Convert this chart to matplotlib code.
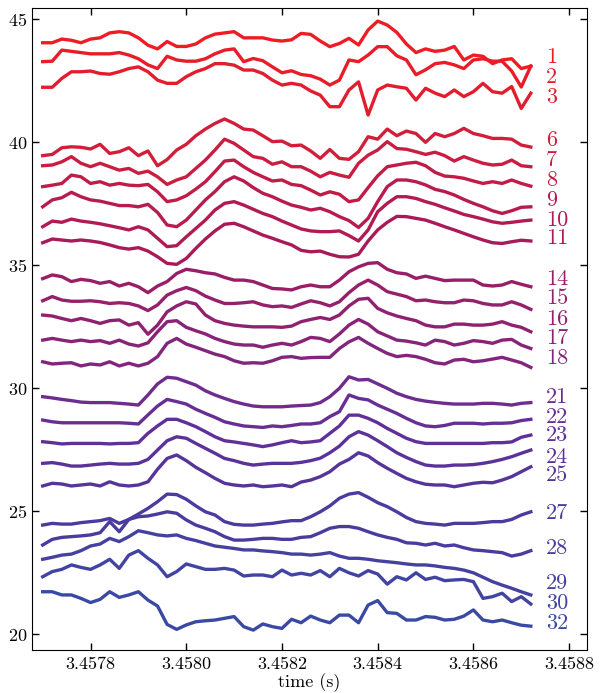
import numpy as np
import matplotlib
matplotlib.use("Agg")
import matplotlib.pyplot as plt
from matplotlib.colors import LinearSegmentedColormap

plt.rcParams['font.family'] = 'serif'
plt.rcParams['font.serif'] = ['cmr10', 'DejaVu Serif']
plt.rcParams['axes.formatter.use_mathtext'] = True

# sample times (s), 52 samples spaced 20 us
t = np.linspace(3.4577, 3.45872, 52)

# channel traces (offset voltages)
ch1 = [44.05, 44.05, 44.2, 44.15, 44.05, 44.2, 44.25, 44.45, 44.5, 44.45, 44.25, 43.95, 43.8, 44.1, 43.9, 43.9, 44.0, 44.25, 44.4, 44.45, 44.5,
       44.25, 44.25, 44.25, 44.16, 44.12, 44.17, 44.43, 44.39, 44.12, 43.89, 44.02, 44.23, 43.96, 44.57, 44.93, 44.77, 44.47, 44.0,
       43.65, 43.8, 43.7, 43.75, 43.9, 43.35, 43.55, 43.5, 43.2, 43.35, 43.4, 43.0, 43.1]
ch2 = [43.28, 43.3, 43.75, 43.7, 43.65, 43.6, 43.6, 43.6, 43.65, 43.55, 43.4, 43.15, 43.0, 43.5, 43.35, 43.3, 43.3, 43.4, 43.6, 43.75, 43.8,
       43.28, 43.41, 43.32, 43.07, 42.83, 42.91, 42.76, 42.71, 42.57, 42.33, 42.53, 43.35, 43.28, 43.55, 43.89, 43.89, 43.52, 43.35,
       42.75, 42.95, 43.2, 43.25, 43.15, 43.0, 43.35, 43.4, 43.3, 43.3, 42.9, 42.25, 43.1]
ch3 = [42.24, 42.24, 42.6, 42.87, 42.87, 42.9, 42.8, 42.77, 42.87, 43.0, 43.07, 42.87, 42.53, 42.4, 42.4, 42.67, 42.87, 43.0, 43.2, 43.2, 43.14,
       42.94, 42.94, 42.8, 42.53, 42.33, 42.4, 42.33, 42.09, 41.92, 41.45, 41.45, 42.13, 42.46, 41.11, 42.13, 42.33, 42.26, 42.2,
       41.72, 42.2, 42.0, 41.86, 42.13, 41.86, 42.06, 42.4, 42.06, 42.0, 42.27, 41.38, 42.0]
ch6 = [39.46, 39.51, 39.78, 39.82, 39.8, 39.73, 39.92, 39.55, 39.62, 39.78, 39.46, 39.65, 39.05, 39.3, 39.69, 39.92, 40.27, 40.54, 40.77, 40.95,
       40.77, 40.54, 40.5, 40.27, 40.03, 40.05, 39.86, 39.89, 39.65, 39.35, 39.71, 39.35, 39.31, 39.62, 40.23, 40.13, 40.54, 40.27,
       40.46, 40.36, 40.0, 40.36, 40.23, 40.36, 40.57, 40.36, 40.27, 40.16, 40.16, 40.13, 39.89, 39.81]
ch7 = [39.05, 39.08, 39.21, 39.42, 39.15, 39.01, 39.15, 39.01, 38.87, 38.94, 38.74, 38.83, 38.6, 38.29, 38.47, 38.6, 38.94, 39.28, 39.69, 40.13,
       39.96, 39.69, 39.42, 39.35, 39.11, 39.21, 39.01, 39.01, 38.83, 38.6, 38.78, 38.67, 38.58, 39.15, 39.48, 39.69, 40.03, 39.75,
       39.72, 39.62, 39.51, 39.6, 39.46, 39.24, 39.42, 39.28, 39.15, 39.08, 39.11, 39.28, 39.05, 39.01]
ch8 = [38.2, 38.26, 38.33, 38.67, 38.6, 38.33, 38.4, 38.26, 38.33, 38.26, 38.24, 38.29, 37.99, 37.59, 37.66, 37.83, 38.1, 38.4, 38.81, 39.24,
       39.28, 39.01, 38.78, 38.6, 38.43, 38.47, 38.29, 38.24, 38.06, 37.86, 37.99, 37.89, 37.59, 37.66, 38.16, 38.64, 39.01, 39.08,
       39.15, 39.19, 39.05, 38.78, 38.63, 38.6, 38.54, 38.43, 38.33, 38.4, 38.33, 38.47, 38.33, 38.22]
ch9 = [37.38, 37.66, 37.75, 37.97, 37.79, 37.66, 37.61, 37.52, 37.43, 37.43, 37.38, 37.48, 37.15, 36.64, 36.57, 36.84, 37.25, 37.66, 38.0, 38.4,
       38.6, 38.43, 38.16, 37.93, 37.79, 37.61, 37.45, 37.36, 37.25, 37.32, 37.18, 36.98, 36.82, 36.54, 36.91, 37.59, 38.2, 38.47,
       38.47, 38.4, 38.27, 38.09, 38.0, 37.86, 37.68, 37.52, 37.38, 37.22, 37.11, 37.22, 37.36, 37.38]
ch10 = [36.57, 36.8, 36.75, 36.88, 36.8, 36.75, 36.69, 36.61, 36.53, 36.44, 36.57, 36.44, 36.1, 35.76, 35.8, 36.16, 36.5, 36.84, 37.25, 37.52,
        37.59, 37.45, 37.28, 37.11, 36.98, 36.8, 36.64, 36.48, 36.4, 36.37, 36.37, 36.4, 36.21, 35.99, 36.44, 37.18, 37.52, 37.79,
        37.79, 37.72, 37.59, 37.48, 37.34, 37.21, 37.07, 36.98, 36.88, 36.77, 36.71, 36.75, 36.8, 36.84]
ch11 = [35.92, 36.07, 36.03, 35.99, 36.03, 35.99, 35.93, 35.83, 35.72, 35.66, 35.72, 35.58, 35.35, 35.08, 35.04, 35.28, 35.69, 36.07, 36.4, 36.67,
        36.71, 36.57, 36.4, 36.23, 36.1, 35.96, 35.83, 35.61, 35.55, 35.58, 35.45, 35.35, 35.34, 35.45, 35.99, 36.44, 36.75, 36.99,
        36.98, 36.91, 36.84, 36.71, 36.57, 36.44, 36.3, 36.16, 36.03, 35.92, 35.89, 35.96, 36.02, 35.99]
ch14 = [34.46, 34.61, 34.54, 34.34, 34.43, 34.38, 34.27, 34.34, 34.16, 34.27, 34.13, 33.89, 34.16, 34.34, 34.67, 34.84, 34.78, 34.7, 34.65, 34.51,
        34.4, 34.4, 34.34, 34.2, 34.06, 34.04, 34.0, 34.13, 34.2, 34.13, 34.13, 34.4, 34.74, 34.94, 35.08, 35.11, 34.84, 34.7,
        34.65, 34.47, 34.56, 34.47, 34.38, 34.4, 34.4, 34.4, 34.2, 34.16, 34.2, 34.34, 34.23, 34.13]
ch15 = [33.56, 33.73, 33.59, 33.54, 33.54, 33.56, 33.52, 33.45, 33.48, 33.45, 33.35, 33.16, 33.39, 33.79, 33.97, 34.1, 33.97, 33.75, 33.59, 33.45,
        33.45, 33.48, 33.52, 33.39, 33.32, 33.35, 33.29, 33.43, 33.56, 33.48, 33.35, 33.52, 33.89, 34.2, 34.4, 34.2, 33.93, 33.83,
        33.73, 33.56, 33.59, 33.52, 33.48, 33.48, 33.59, 33.56, 33.45, 33.39, 33.39, 33.52, 33.39, 33.21]
ch16 = [32.98, 32.94, 32.84, 32.75, 32.84, 32.75, 32.64, 32.75, 32.78, 32.57, 32.67, 32.2, 32.57, 33.11, 33.35, 33.52, 33.43, 32.98, 32.75, 32.64,
        32.57, 32.53, 32.5, 32.5, 32.5, 32.48, 32.53, 32.71, 32.8, 32.88, 32.8, 32.98, 33.35, 33.62, 33.66, 33.25, 33.07, 32.94,
        32.84, 32.75, 32.57, 32.5, 32.5, 32.61, 32.61, 32.57, 32.57, 32.61, 32.71, 32.57, 32.48, 32.3]
ch17 = [31.96, 32.03, 31.96, 31.9, 31.96, 31.9, 31.94, 31.83, 31.96, 31.8, 31.72, 31.85, 32.3, 32.71, 32.75, 32.48, 32.34, 32.21, 32.03, 31.9,
        31.8, 31.76, 31.76, 31.67, 31.76, 31.83, 31.76, 31.9, 32.07, 32.03, 31.9, 32.21, 32.57, 32.8, 32.61, 32.3, 32.13, 31.96,
        31.92, 31.85, 31.76, 31.96, 31.9, 31.76, 31.83, 31.94, 31.9, 31.83, 31.96, 31.99, 31.76, 31.62]
ch18 = [31.08, 30.99, 31.02, 31.04, 30.91, 30.99, 30.95, 31.08, 30.91, 31.02, 30.91, 31.02, 31.29, 31.83, 32.03, 31.8, 31.67, 31.53, 31.39, 31.29,
        31.12, 31.02, 31.04, 31.02, 31.12, 31.26, 31.29, 31.22, 31.25, 31.26, 31.26, 31.62, 31.89, 32.07, 31.83, 31.62, 31.42, 31.29,
        31.34, 31.29, 31.18, 31.04, 30.99, 31.15, 31.18, 31.08, 31.12, 31.19, 31.26, 31.15, 31.04, 30.85]
ch21 = [29.66, 29.61, 29.55, 29.5, 29.44, 29.42, 29.42, 29.42, 29.39, 29.36, 29.32, 29.73, 30.18, 30.45, 30.41, 30.27, 30.13, 29.9, 29.73, 29.59,
        29.46, 29.36, 29.28, 29.25, 29.25, 29.25, 29.28, 29.3, 29.32, 29.42, 29.66, 30.0, 30.47, 30.34, 30.36, 30.18, 30.0, 29.8,
        29.66, 29.55, 29.48, 29.43, 29.39, 29.36, 29.36, 29.36, 29.39, 29.39, 29.36, 29.32, 29.39, 29.42]
ch22 = [28.71, 28.64, 28.6, 28.6, 28.6, 28.6, 28.6, 28.6, 28.6, 28.58, 28.55, 28.92, 29.28, 29.55, 29.46, 29.36, 29.15, 28.98, 28.82, 28.64,
        28.55, 28.47, 28.44, 28.41, 28.47, 28.44, 28.49, 28.55, 28.55, 28.6, 28.85, 29.05, 29.73, 29.59, 29.53, 29.32, 29.15, 28.98,
        28.78, 28.6, 28.47, 28.44, 28.49, 28.58, 28.58, 28.58, 28.55, 28.58, 28.58, 28.6, 28.69, 28.74]
ch23 = [27.83, 27.79, 27.74, 27.76, 27.76, 27.76, 27.76, 27.74, 27.76, 27.76, 27.79, 28.17, 28.47, 28.74, 28.74, 28.6, 28.44, 28.24, 28.03, 27.87,
        27.82, 27.76, 27.7, 27.63, 27.7, 27.79, 27.87, 27.79, 27.82, 27.87, 28.17, 28.47, 28.91, 28.91, 28.78, 28.6, 28.37, 28.17,
        27.97, 27.83, 27.76, 27.76, 27.76, 27.76, 27.76, 27.76, 27.76, 27.79, 27.79, 27.82, 28.01, 28.1]
ch24 = [26.95, 26.98, 26.92, 26.84, 26.84, 26.88, 26.92, 26.95, 26.92, 26.92, 26.95, 27.11, 27.49, 27.87, 28.03, 27.97, 27.76, 27.56, 27.36, 27.15,
        27.06, 26.95, 26.88, 26.92, 26.95, 26.95, 26.95, 26.99, 27.06, 27.16, 27.38, 27.65, 28.03, 28.24, 28.1, 27.87, 27.63, 27.38,
        27.19, 27.02, 26.88, 26.84, 26.84, 26.88, 26.88, 26.9, 26.95, 27.02, 27.11, 27.22, 27.36, 27.49]
ch25 = [26.03, 26.14, 26.11, 26.03, 26.07, 26.11, 26.03, 26.2, 26.07, 26.03, 26.07, 26.2, 26.71, 27.15, 27.29, 27.06, 26.79, 26.57, 26.34, 26.14,
        26.07, 26.03, 26.07, 26.0, 26.03, 26.07, 26.0, 26.19, 26.27, 26.41, 26.61, 26.92, 27.11, 27.38, 27.25, 26.98, 26.75, 26.54,
        26.34, 26.2, 26.1, 26.07, 26.07, 26.0, 26.07, 26.14, 26.18, 26.16, 26.27, 26.41, 26.61, 26.81]
ch27 = [24.44, 24.51, 24.48, 24.48, 24.54, 24.58, 24.62, 24.71, 24.51, 24.67, 24.89, 25.12, 25.39, 25.7, 25.68, 25.49, 25.22, 24.98, 24.85, 24.58,
        24.47, 24.44, 24.44, 24.48, 24.51, 24.57, 24.62, 24.62, 24.78, 24.98, 25.22, 25.53, 25.7, 25.76, 25.57, 25.35, 25.19, 24.98,
        24.75, 24.58, 24.51, 24.48, 24.44, 24.51, 24.51, 24.51, 24.54, 24.58, 24.58, 24.67, 24.85, 24.98]
ch28 = [23.63, 23.86, 23.94, 23.97, 24.0, 24.04, 24.13, 24.58, 24.17, 24.67, 24.78, 24.81, 24.89, 24.98, 24.92, 24.65, 24.44, 24.31, 24.17, 23.97,
        23.83, 23.83, 23.86, 23.9, 23.9, 23.86, 23.86, 23.94, 23.97, 24.13, 24.31, 24.38, 24.38, 24.31, 24.17, 24.04, 23.94, 23.86,
        23.72, 23.7, 23.63, 23.7, 23.59, 23.63, 23.52, 23.43, 23.4, 23.36, 23.32, 23.18, 23.26, 23.4]
ch29 = [23.05, 23.13, 23.22, 23.26, 23.4, 23.59, 23.67, 23.9, 23.77, 23.97, 24.21, 24.13, 24.04, 24.0, 24.04, 23.9, 23.81, 23.7, 23.59, 23.54,
        23.49, 23.43, 23.43, 23.39, 23.36, 23.32, 23.26, 23.26, 23.22, 23.26, 23.32, 23.18, 23.09, 23.09, 23.05, 22.99, 22.95, 22.91,
        22.86, 22.82, 22.82, 22.78, 22.72, 22.68, 22.61, 22.5, 22.32, 22.14, 22.0, 21.87, 21.73, 21.6]
ch30 = [22.34, 22.55, 22.64, 22.82, 22.72, 22.64, 22.82, 23.05, 22.68, 23.22, 23.4, 23.09, 22.82, 22.34, 22.55, 22.86, 22.75, 22.64, 22.64, 22.68,
        22.61, 22.37, 22.41, 22.41, 22.34, 22.61, 22.41, 22.48, 22.41, 22.59, 22.34, 22.68, 22.5, 22.37, 22.59, 22.45, 22.04, 22.34,
        22.21, 22.5, 22.23, 22.32, 22.18, 22.21, 22.23, 22.14, 21.46, 21.53, 21.67, 21.33, 21.53, 21.23]
ch32 = [21.73, 21.73, 21.6, 21.6, 21.46, 21.29, 21.42, 21.73, 21.5, 21.6, 21.73, 21.39, 21.15, 20.4, 20.2, 20.38, 20.51, 20.55, 20.58, 20.65,
        20.72, 20.31, 20.17, 20.42, 20.31, 20.24, 20.61, 20.47, 20.74, 20.58, 20.47, 20.78, 20.78, 20.47, 21.19, 21.37, 20.88, 20.85,
        20.58, 20.58, 20.72, 20.69, 20.58, 20.61, 20.74, 20.99, 20.58, 20.51, 20.58, 20.47, 20.37, 20.33]

channels = [1, 2, 3, 6, 7, 8, 9, 10, 11, 14, 15, 16, 17, 18, 21, 22, 23, 24, 25, 27, 28, 29, 30, 32]
traces = [ch1, ch2, ch3, ch6, ch7, ch8, ch9, ch10, ch11, ch14, ch15, ch16, ch17, ch18,
          ch21, ch22, ch23, ch24, ch25, ch27, ch28, ch29, ch30, ch32]
# where the channel numbers sit on the right
label_y = [43.47, 42.65, 41.84, 40.09, 39.28, 38.47, 37.66, 36.85, 36.11, 34.44, 33.65, 32.81, 32.04, 31.23,
           29.64, 28.83, 28.1, 27.2, 26.47, 24.93, 23.51, 22.08, 21.26, 20.45]

cmap = LinearSegmentedColormap.from_list(
    'redblue', [(0.0, '#ee1d25'), (0.16, '#d11e3b'), (0.32, '#a91a59'), (0.48, '#902170'),
                (0.7, '#622f98'), (0.85, '#4a3b9e'), (1.0, '#3a4aa3')])

fig = plt.figure(figsize=(6.01, 6.93), dpi=100)
ax = fig.add_axes([0.0527, 0.062, 0.9245, 0.926])

for ch, y, ly in zip(channels, traces, label_y):
    c = cmap((ch - 1) / 31)
    ax.plot(t, y, color=c, lw=2.4)
    ax.text(3.4587515, ly, str(ch), color=c, fontsize=16, ha='left', va='center')

ax.set_xlim(3.457677, 3.458838)
ax.set_ylim(19.36, 45.45)
ax.set_xticks([3.4578, 3.4580, 3.4582, 3.4584, 3.4586, 3.4588])
ax.set_xticklabels(['3.4578', '3.4580', '3.4582', '3.4584', '3.4586', '3.4588'])
ax.set_yticks([20, 25, 30, 35, 40, 45])
ax.tick_params(direction='in', top=True, right=True, length=5, width=1, labelsize=13)
ax.tick_params(axis='x', pad=5)
ax.tick_params(axis='y', pad=3)
ax.set_xlabel('time (s)', fontsize=13, labelpad=1)

fig.savefig('out.png', dpi=100)
